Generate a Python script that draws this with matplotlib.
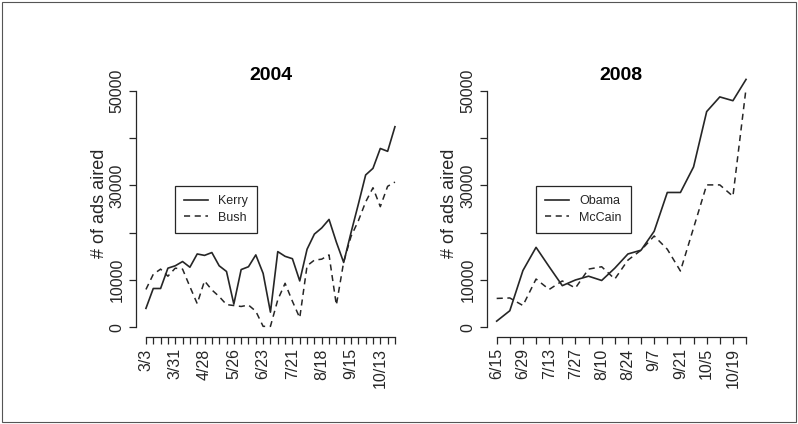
import matplotlib.pyplot as plt
from matplotlib.patches import Rectangle

plt.rcParams['font.family'] = ['Liberation Sans', 'DejaVu Sans']

# 2004: weekly counts from 3/3 (thousands of ads)
weeks_2004 = ["3/3", "3/10", "3/17", "3/24", "3/31", "4/7", "4/14", "4/21", "4/28",
              "5/5", "5/12", "5/19", "5/26", "6/2", "6/9", "6/16", "6/23", "6/30",
              "7/7", "7/14", "7/21", "7/28", "8/4", "8/11", "8/18", "8/25", "9/1",
              "9/8", "9/15", "9/22", "9/29", "10/6", "10/13", "10/20", "10/27"]
kerry = [4.0, 8.2, 8.2, 12.5, 13.0, 13.9, 12.7, 15.5, 15.2, 15.8, 13.0, 11.8, 4.9,
         12.2, 12.8, 15.3, 11.4, 3.2, 16.0, 15.0, 14.5, 9.8, 16.5, 19.7, 21.0, 22.8,
         18.0, 13.7, 20.0, 26.0, 32.2, 33.6, 37.8, 37.2, 42.4]
bush = [8.0, 11.2, 12.3, 10.8, 12.5, 12.3, 8.6, 5.0, 9.8, 7.9, 6.5, 4.8, 4.6,
        4.4, 4.7, 3.4, 0.2, 0.2, 5.8, 9.3, 5.5, 2.0, 13.0, 14.2, 14.4, 15.3,
        4.7, 13.8, 19.2, 22.5, 26.5, 29.5, 25.5, 29.8, 30.7]

# 2008: weekly counts from 6/15
weeks_2008 = ["6/15", "6/22", "6/29", "7/6", "7/13", "7/20", "7/27", "8/3", "8/10",
              "8/17", "8/24", "8/31", "9/7", "9/14", "9/21", "9/28", "10/5", "10/12",
              "10/19", "10/26"]
obama = [1.3, 3.5, 12.0, 16.9, 12.8, 8.8, 10.0, 10.8, 9.9, 12.5, 15.5, 16.3,
         20.3, 28.5, 28.5, 33.9, 45.6, 48.7, 47.9, 52.4]
mccain = [6.1, 6.2, 4.6, 10.2, 8.0, 9.8, 8.3, 12.3, 12.8, 10.2, 14.2, 16.3,
          19.3, 16.5, 11.9, 21.0, 30.1, 30.1, 27.7, 50.5]

ink = '#262626'
ymax = max(obama + mccain + kerry + bush) * 1000

fig = plt.figure(figsize=(7.98, 4.24), dpi=100)
fig.patches.append(Rectangle((0.003, 0.004), 0.994, 0.992, transform=fig.transFigure,
                             fill=False, edgecolor='#555555', lw=0.8))

panels = [
    ("2004", weeks_2004, kerry, bush, "Kerry", "Bush", 4, [0.1704, 0.2047, 0.337, 0.6314], 0.145),
    ("2008", weeks_2008, obama, mccain, "Obama", "McCain", 2, [0.6099, 0.2047, 0.3375, 0.6314], 0.183),
]

for title, weeks, a, b, na, nb, step, pos, lx in panels:
    ax = fig.add_axes(pos)
    x = list(range(len(weeks)))
    ax.plot(x, [v * 1000 for v in a], color=ink, lw=1.2, label=na)
    ax.plot(x, [v * 1000 for v in b], color=ink, lw=1.1, ls=(0, (4, 3)), label=nb)
    ax.set_xlim(-0.04 * (len(x) - 1), (len(x) - 1) * 1.04)
    ax.set_ylim(-0.04 * ymax, ymax * 1.04)
    for s in ['top', 'right']:
        ax.spines[s].set_visible(False)
    ax.spines['left'].set_bounds(0, 50000)
    ax.spines['bottom'].set_bounds(0, len(x) - 1)
    for s in ['left', 'bottom']:
        ax.spines[s].set_color(ink)
        ax.spines[s].set_linewidth(0.9)
    ax.set_yticks([0, 10000, 20000, 30000, 40000, 50000])
    ax.set_yticklabels(['0', '10000', '', '30000', '', '50000'], rotation=90, va='center')
    ax.set_xticks(x)
    ax.set_xticklabels([w if i % step == 0 else '' for i, w in enumerate(weeks)], rotation=90)
    ax.tick_params(length=5, width=0.9, color=ink, labelcolor=ink, labelsize=11.5, pad=3)
    ax.set_ylabel("# of ads aired", fontsize=13, color=ink)
    ax.yaxis.set_label_coords(-0.105, 0.5)
    fig.text(pos[0] + pos[2] / 2, 1 - 76 / 424, title, fontsize=14, fontweight='bold',
             color='black', ha='center', va='center')
    leg = ax.legend(loc='upper left', bbox_to_anchor=(lx, 0.565), fontsize=9,
                    frameon=True, fancybox=False, edgecolor=ink, framealpha=1,
                    handlelength=1.9, borderpad=0.75, labelspacing=0.35,
                    handletextpad=0.8, borderaxespad=0)
    leg.get_frame().set_linewidth(0.9)
    for t in leg.get_texts():
        t.set_color(ink)

fig.savefig("out.png", dpi=100)
